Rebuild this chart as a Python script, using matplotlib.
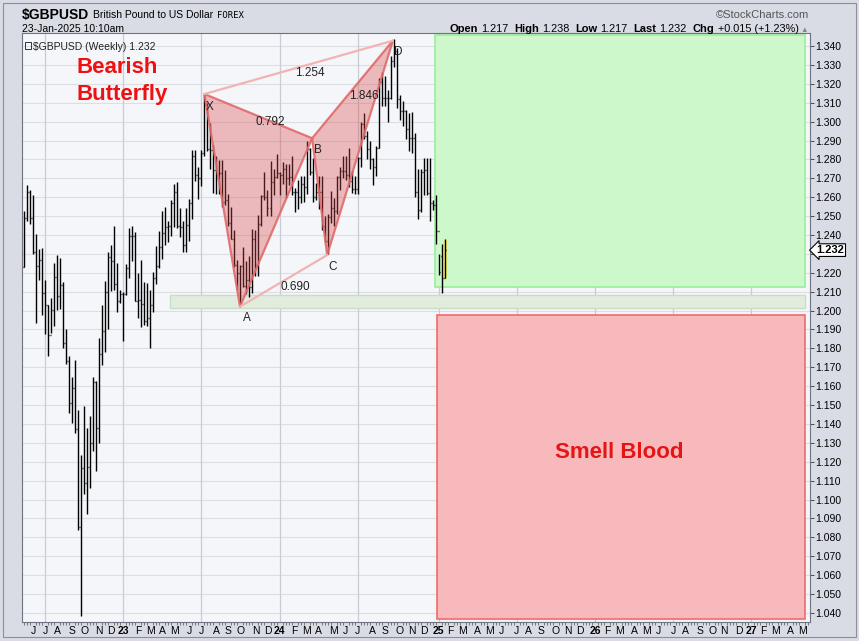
import matplotlib
matplotlib.use('Agg')
import matplotlib.pyplot as plt
import matplotlib.dates as mdates
import matplotlib.transforms as mtransforms
from matplotlib.patches import Rectangle
import numpy as np
import pandas as pd

plt.rcParams['font.family'] = ['Liberation Sans', 'DejaVu Sans']

# ---------------- data ----------------
start_week = '2022-05-16'

opens = [1.2230, 1.2490, 1.2625, 1.2490, 1.2310, 1.2238, 1.2267, 1.2093, 1.2030, 1.1870,
         1.2005, 1.2177, 1.2075, 1.2133, 1.1828, 1.1735, 1.1510, 1.1590, 1.1375, 1.0856,
         1.1165, 1.1090, 1.1170, 1.1300, 1.1620, 1.1380, 1.1770, 1.1890, 1.2100, 1.2285,
         1.2260, 1.2140, 1.2050, 1.2090, 1.2090, 1.2225, 1.2395, 1.2395, 1.2050, 1.2055,
         1.2035, 1.1944, 1.1960, 1.2030, 1.2175, 1.2235, 1.2335, 1.2410, 1.2440, 1.2445,
         1.2570, 1.2630, 1.2445, 1.2440, 1.2345, 1.2455, 1.2570, 1.2820, 1.2715, 1.2700,
         1.2835, 1.3090, 1.2855, 1.2850, 1.2745, 1.2700, 1.2730, 1.2575, 1.2585, 1.2465,
         1.2380, 1.2240, 1.2200, 1.2235, 1.2130, 1.2160, 1.2125, 1.2380, 1.2240, 1.2460,
         1.2605, 1.2600, 1.2545, 1.2680, 1.2705, 1.2730, 1.2720, 1.2750, 1.2700, 1.2705,
         1.2630, 1.2625, 1.2600, 1.2670, 1.2655, 1.2855, 1.2735, 1.2600, 1.2630, 1.2630,
         1.2450, 1.2370, 1.2495, 1.2545, 1.2525, 1.2705, 1.2740, 1.2740, 1.2720, 1.2685,
         1.2645, 1.2645, 1.2810, 1.2990, 1.2925, 1.2855, 1.2800, 1.2760, 1.2860, 1.3210,
         1.3125, 1.3125, 1.3125, 1.3320, 1.3375, 1.3120, 1.3055, 1.3055, 1.2960, 1.2915,
         1.2915, 1.2625, 1.2530, 1.2735, 1.2745, 1.2620, 1.2570, 1.2560, 1.2420, 1.2290,
         1.2170]
highs = [1.2525, 1.2667, 1.2640, 1.2610, 1.2406, 1.2325, 1.2333, 1.2160, 1.2030, 1.2064,
         1.2250, 1.2293, 1.2276, 1.2150, 1.1900, 1.1761, 1.1648, 1.1738, 1.1474, 1.1236,
         1.1495, 1.1380, 1.1440, 1.1646, 1.1625, 1.1855, 1.2028, 1.2154, 1.2310, 1.2345,
         1.2446, 1.2250, 1.2110, 1.2100, 1.2246, 1.2435, 1.2450, 1.2418, 1.2200, 1.2270,
         1.2150, 1.2145, 1.2110, 1.2203, 1.2343, 1.2423, 1.2525, 1.2546, 1.2475, 1.2585,
         1.2668, 1.2680, 1.2545, 1.2472, 1.2545, 1.2590, 1.2848, 1.2848, 1.2760, 1.2850,
         1.3145, 1.3100, 1.2995, 1.2875, 1.2820, 1.2795, 1.2795, 1.2745, 1.2615, 1.2548,
         1.2425, 1.2270, 1.2240, 1.2337, 1.2260, 1.2290, 1.2430, 1.2428, 1.2505, 1.2614,
         1.2735, 1.2640, 1.2794, 1.2748, 1.2827, 1.2735, 1.2786, 1.2775, 1.2775, 1.2818,
         1.2650, 1.2690, 1.2710, 1.2710, 1.2895, 1.2860, 1.2805, 1.2675, 1.2710, 1.2710,
         1.2500, 1.2510, 1.2635, 1.2595, 1.2710, 1.2760, 1.2817, 1.2820, 1.2860, 1.2740,
         1.2710, 1.2815, 1.3000, 1.3045, 1.2950, 1.2900, 1.2810, 1.2870, 1.3230, 1.3265,
         1.3240, 1.3170, 1.3345, 1.3435, 1.3390, 1.3140, 1.3110, 1.3060, 1.3045, 1.3050,
         1.2940, 1.2750, 1.2750, 1.2810, 1.2810, 1.2810, 1.2585, 1.2610, 1.2300, 1.2355,
         1.2380]
lows = [1.2230, 1.2475, 1.2460, 1.2300, 1.1934, 1.2161, 1.1976, 1.1876, 1.1760, 1.1880,
        1.1916, 1.2004, 1.2006, 1.1800, 1.1717, 1.1460, 1.1405, 1.1351, 1.0838, 1.0385,
        1.1030, 1.0924, 1.1060, 1.1257, 1.1150, 1.1300, 1.1710, 1.1780, 1.1900, 1.2106,
        1.2110, 1.1990, 1.2040, 1.1840, 1.2085, 1.2170, 1.2262, 1.2050, 1.1961, 1.1915,
        1.1925, 1.1920, 1.1802, 1.1990, 1.2140, 1.2225, 1.2275, 1.2345, 1.2365, 1.2393,
        1.2440, 1.2435, 1.2390, 1.2308, 1.2310, 1.2370, 1.2485, 1.2685, 1.2590, 1.2660,
        1.2820, 1.2845, 1.2750, 1.2620, 1.2615, 1.2615, 1.2548, 1.2560, 1.2445, 1.2378,
        1.2230, 1.2110, 1.2037, 1.2123, 1.2090, 1.2070, 1.2095, 1.2185, 1.2185, 1.2450,
        1.2585, 1.2500, 1.2500, 1.2612, 1.2700, 1.2610, 1.2670, 1.2596, 1.2665, 1.2610,
        1.2520, 1.2535, 1.2570, 1.2575, 1.2615, 1.2720, 1.2575, 1.2585, 1.2540, 1.2427,
        1.2365, 1.2300, 1.2465, 1.2445, 1.2510, 1.2640, 1.2700, 1.2690, 1.2655, 1.2620,
        1.2615, 1.2615, 1.2760, 1.2910, 1.2800, 1.2750, 1.2665, 1.2710, 1.2860, 1.3085,
        1.3085, 1.3000, 1.3120, 1.3290, 1.3070, 1.3010, 1.2975, 1.2910, 1.2845, 1.2835,
        1.2600, 1.2485, 1.2520, 1.2610, 1.2610, 1.2475, 1.2530, 1.2350, 1.2190, 1.2095,
        1.2170]
closes = [1.2490, 1.2625, 1.2490, 1.2310, 1.2238, 1.2267, 1.2093, 1.2030, 1.1870, 1.2005,
          1.2177, 1.2075, 1.2133, 1.1828, 1.1735, 1.1510, 1.1590, 1.1375, 1.0856, 1.1165,
          1.1090, 1.1170, 1.1300, 1.1620, 1.1380, 1.1770, 1.1890, 1.2100, 1.2285, 1.2260,
          1.2140, 1.2050, 1.2090, 1.2090, 1.2225, 1.2395, 1.2395, 1.2050, 1.2055, 1.2035,
          1.1944, 1.1960, 1.2030, 1.2175, 1.2235, 1.2335, 1.2410, 1.2440, 1.2445, 1.2570,
          1.2630, 1.2445, 1.2440, 1.2345, 1.2455, 1.2570, 1.2820, 1.2715, 1.2700, 1.2835,
          1.3090, 1.2855, 1.2850, 1.2745, 1.2700, 1.2730, 1.2575, 1.2585, 1.2465, 1.2380,
          1.2240, 1.2200, 1.2235, 1.2130, 1.2160, 1.2125, 1.2380, 1.2240, 1.2460, 1.2605,
          1.2600, 1.2545, 1.2680, 1.2705, 1.2730, 1.2720, 1.2750, 1.2700, 1.2705, 1.2630,
          1.2625, 1.2600, 1.2670, 1.2655, 1.2855, 1.2735, 1.2600, 1.2630, 1.2630, 1.2450,
          1.2370, 1.2495, 1.2545, 1.2525, 1.2705, 1.2740, 1.2740, 1.2720, 1.2685, 1.2645,
          1.2645, 1.2810, 1.2990, 1.2925, 1.2855, 1.2800, 1.2760, 1.2860, 1.3210, 1.3125,
          1.3125, 1.3125, 1.3320, 1.3375, 1.3120, 1.3055, 1.3055, 1.2960, 1.2915, 1.2915,
          1.2625, 1.2530, 1.2735, 1.2745, 1.2620, 1.2570, 1.2560, 1.2420, 1.2205, 1.2170,
          1.2320]

# harmonic pattern points
pattern_names = ['X', 'A', 'B', 'C', 'D']
pattern_dates = ['2023-07-10', '2023-10-01', '2024-03-17', '2024-04-21', '2024-09-21']
pattern_prices = [1.3146, 1.2021, 1.2912, 1.2294, 1.3428]
letter_dates = ['2023-07-23', '2023-10-17', '2024-03-30', '2024-05-04', '2024-10-03']
letter_prices = [1.3077, 1.1961, 1.2850, 1.2231, 1.3368]
ratio_texts = ['1.254', '0.792', '1.846', '0.690']
ratio_dates = ['2024-03-12', '2023-12-11', '2024-07-16', '2024-02-06']
ratio_prices = [1.3257, 1.2998, 1.3137, 1.2126]

# zones
green_zone = ['2024-12-28', '2027-05-09', 1.2125, 1.3458]
red_zone = ['2025-01-02', '2027-05-09', 1.0368, 1.1977]
support_band = ['2023-04-21', '2027-05-09', 1.2016, 1.2084]

y_ticks = [round(1.04 + 0.01 * k, 3) for k in range(31)]
last_price = 1.232
header_info = [('Open', '1.217'), ('High', '1.238'), ('Low', '1.217'), ('Last', '1.232'),
               ('Chg', '+0.015 (+1.23%)')]

# ---------------- figure ----------------
W, H = 859, 641
fig = plt.figure(figsize=(W / 100, H / 100), dpi=100, facecolor='#D9DCE5')
renderer = fig.canvas.get_renderer()


def fx(x):
    return x / W


def fy(y):
    return 1 - y / H


def right_px(t):
    return t.get_window_extent(renderer).x1


def left_px(t):
    return t.get_window_extent(renderer).x0


L, R, T, B = 22, 810, 33, 622
ax = fig.add_axes([fx(L), fy(B), fx(R) - fx(L), fy(T) - fy(B)])
ax.set_facecolor('#F5F6FA')

weeks = pd.date_range(start_week, periods=len(closes), freq='7D')
xw = mdates.date2num(weeks)
day_per_px = 7 / 3.005

# grid: horizontal every 0.01
for yv in y_ticks:
    ax.axhline(yv, color='#DCDEE4', lw=0.8, zorder=0)

# month ticks: first Monday of each month
month_starts = pd.date_range('2022-06-01', '2027-05-31', freq='WOM-1MON')
month_letters = 'JFMAMJJASOND'
for d in month_starts:
    if d.month in (1, 7):
        ax.axvline(mdates.date2num(d), color='#C9CCD3', lw=0.9, zorder=0)


def rect(zone, fc, ec, lw, z, alpha=1.0):
    x0 = mdates.date2num(pd.Timestamp(zone[0]))
    x1 = mdates.date2num(pd.Timestamp(zone[1]))
    ax.add_patch(Rectangle((x0, zone[2]), x1 - x0, zone[3] - zone[2], fc=fc, ec=ec,
                           lw=lw, zorder=z, alpha=alpha))


rect(support_band, '#E2ECDD', '#C9DDC4', 1.0, 1)
rect(green_zone, '#CCF8CC', '#9AEE9A', 1.2, 1)
rect(red_zone, '#F8B9BD', '#EE6B6B', 1.2, 1)

# OHLC bars
ax.vlines(xw[-1], lows[-1], highs[-1], color='#EEEE70', lw=2.4, zorder=2)
ax.vlines(xw, lows, highs, color='black', lw=1.0, zorder=3)
ax.hlines(opens, xw - day_per_px, xw, color='black', lw=1.0, zorder=3)
ax.hlines(closes, xw, xw + day_per_px, color='black', lw=1.0, zorder=3)

# pattern
px_ = [mdates.date2num(pd.Timestamp(d)) for d in pattern_dates]
py_ = pattern_prices
tri1 = [(px_[0], py_[0]), (px_[1], py_[1]), (px_[2], py_[2])]
tri2 = [(px_[2], py_[2]), (px_[3], py_[3]), (px_[4], py_[4])]
for tri in (tri1, tri2):
    xs, ys = zip(*tri)
    ax.fill(xs, ys, color='#D94848', alpha=0.35, lw=0, zorder=4)
red_edge = '#E06A6A'
for a, b in [(0, 1), (1, 2), (0, 2), (2, 3), (3, 4), (2, 4)]:
    ax.plot([px_[a], px_[b]], [py_[a], py_[b]], color=red_edge, lw=1.6, alpha=0.9,
            zorder=5, solid_capstyle='round')
for a, b in [(0, 4), (1, 3)]:
    ax.plot([px_[a], px_[b]], [py_[a], py_[b]], color='#F0B4B4', lw=1.6, zorder=5)

for name, d, p in zip(pattern_names, letter_dates, letter_prices):
    ax.text(mdates.date2num(pd.Timestamp(d)), p, name, fontsize=8.5, ha='center',
            va='center', color='#222222', zorder=6)
for t, d, p in zip(ratio_texts, ratio_dates, ratio_prices):
    ax.text(mdates.date2num(pd.Timestamp(d)), p, t, fontsize=8.5, ha='center',
            va='center', color='#222222', zorder=6)

# annotations
ax.text(mdates.date2num(pd.Timestamp('2022-09-14')), 1.3289, 'Bearish', fontsize=16,
        fontweight='bold', color='#EE1111', ha='left', va='center', zorder=6)
ax.text(mdates.date2num(pd.Timestamp('2022-09-14')), 1.3141, 'Butterfly', fontsize=16,
        fontweight='bold', color='#EE1111', ha='left', va='center', zorder=6)
ax.text(mdates.date2num(pd.Timestamp('2026-03-02')), 1.1247, 'Smell Blood', fontsize=16,
        fontweight='bold', color='#E41515', ha='center', va='center', zorder=6)

# axes limits
ax.set_xlim(mdates.date2num(pd.Timestamp('2022-05-11')),
            mdates.date2num(pd.Timestamp('2027-05-21')))
ax.set_ylim(1.0352, 1.3469)

# y axis on right
ax.yaxis.tick_right()
ax.set_yticks(y_ticks)
ax.set_yticklabels(['' if abs(v - 1.23) < 1e-9 else f'{v:.3f}' for v in y_ticks])
ax.tick_params(axis='y', length=3, width=0.6, pad=1, labelsize=7.5, colors='#333333',
               labelcolor='black')

# x axis month letters
ax.set_xticks([mdates.date2num(d) for d in month_starts])
ax.set_xticklabels([(f'{d.year % 100:02d}' if d.month == 1 else month_letters[d.month - 1])
                    for d in month_starts])
for lab, d in zip(ax.get_xticklabels(), month_starts):
    if d.month == 1:
        lab.set_fontweight('bold')
        lab.set_fontsize(8.5)
ax.tick_params(axis='x', length=0, pad=3, labelsize=7.5)
weekly = pd.date_range('2022-05-16', '2027-05-17', freq='7D')
ax.set_xticks([mdates.date2num(d) for d in weekly], minor=True)
ax.tick_params(axis='x', which='minor', length=2, width=0.6, color='#666666')

for s in ax.spines.values():
    s.set_color('#6E7380')
    s.set_linewidth(0.8)

# last price marker
trans = mtransforms.blended_transform_factory(ax.transAxes, ax.transData)
ax.text(1.008, last_price, '1.232', transform=trans, fontsize=8, fontweight='bold',
        ha='left', va='center', clip_on=False, zorder=10,
        bbox=dict(boxstyle='larrow,pad=0.12', fc='white', ec='black', lw=0.8))

# legend line inside plot
ax.text(11 / (R - L), 0.985, r'\$GBPUSD (Weekly) 1.232', transform=ax.transAxes,
        fontsize=7.5, ha='left', va='top', color='#222222', zorder=7)
ax.add_patch(Rectangle((3 / (R - L), 0.973), 6 / (R - L), 0.011, transform=ax.transAxes,
                       fc='none', ec='#333333', lw=0.7, zorder=7, clip_on=False))

# header texts (left)
t1 = fig.text(fx(22), fy(18.5), r'\$GBPUSD', fontsize=10, fontweight='bold', va='baseline')
t2 = fig.text(fx(right_px(t1) + 4), fy(18.5), 'British Pound to US Dollar', fontsize=7.5,
              va='baseline')
t3 = fig.text(fx(right_px(t2) + 4), fy(18), 'FOREX', fontsize=6.5, va='baseline',
              family='DejaVu Sans Mono')
fig.text(fx(22), fy(31.5), '23-Jan-2025 10:10am', fontsize=7.5, va='baseline')
fig.text(fx(809), fy(17.5), '\u00a9StockCharts.com', fontsize=8, va='baseline', ha='right',
         color='#555555')

# header texts (right), laid out right-to-left
xr = 808
tri = fig.text(fx(xr), fy(31.5), '\u25b2', fontsize=5.5, va='baseline', ha='right',
               color='#888888')
xr = left_px(tri) - 2
for k, v in reversed(header_info):
    tv = fig.text(fx(xr), fy(31.5), v, fontsize=7.8, va='baseline', ha='right')
    xr = left_px(tv) - 3
    tk = fig.text(fx(xr), fy(31.5), k, fontsize=8, fontweight='bold', va='baseline',
                  ha='right')
    xr = left_px(tk) - 6

# outer frame
fig.add_artist(Rectangle((fx(3), fy(637)), fx(853), fy(3) - fy(637), transform=fig.transFigure,
                         fc='none', ec='#8A8F9A', lw=0.8))

fig.savefig('out.png', dpi=100, facecolor=fig.get_facecolor())
